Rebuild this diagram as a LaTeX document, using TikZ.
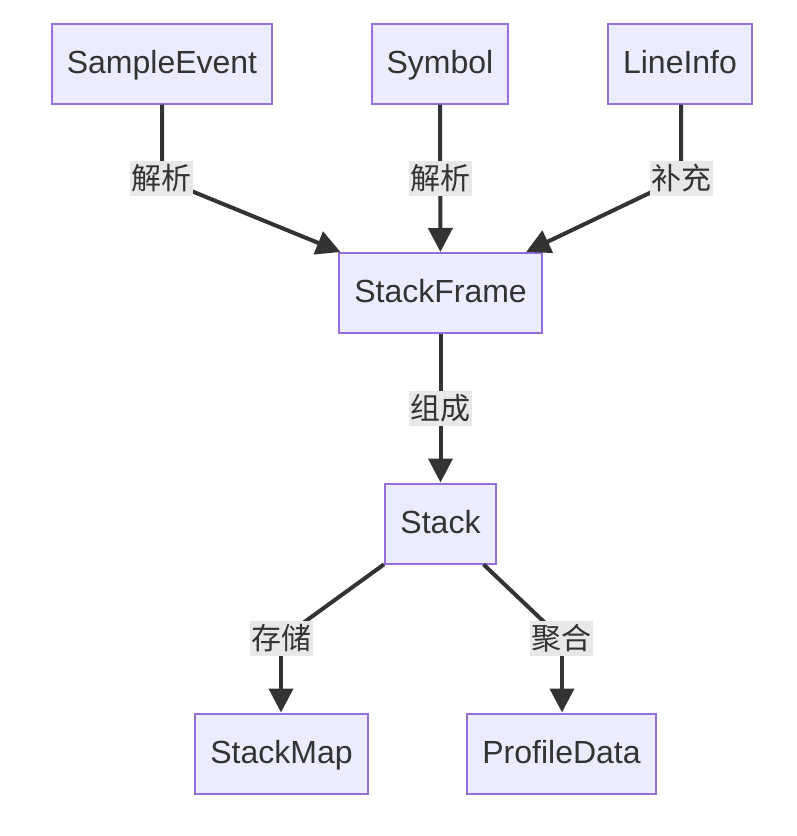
\documentclass[tikz,border=0pt]{standalone}
\usepackage{fontspec}
\setmainfont{Liberation Sans}
\newfontfamily\cjk{Noto Sans CJK SC}
\usetikzlibrary{arrows.meta}
\definecolor{boxfill}{HTML}{ECECFF}
\definecolor{boxline}{HTML}{9370DB}
\definecolor{edgecol}{HTML}{333333}
\definecolor{labbg}{HTML}{E8E8E8}
\definecolor{txt}{HTML}{333333}
\tikzset{
  box/.style={draw=boxline, fill=boxfill, line width=2pt, minimum height=80pt, inner sep=0pt, text height=23pt, text depth=4pt, text=txt, font=\fontsize{32}{38}\selectfont},
  lab/.style={fill=labbg, inner sep=0pt, minimum width=63pt, minimum height=35pt, text=txt, font=\cjk\fontsize{30}{36}\selectfont},
  edge/.style={draw=edgecol, line width=4pt},
  arr/.style={edge, -{Triangle[length=24pt,width=24pt]}}
}
\begin{document}
\begin{tikzpicture}[x=1pt,y=-1pt]
\useasboundingbox[fill=white] (0,0) rectangle (796,836);
% nodes
\node[box, minimum width=220pt] (se) at (162,63.5) {SampleEvent};
\node[box, minimum width=136pt] (sym) at (440,63.5) {Symbol};
\node[box, minimum width=144pt] (li) at (680,63.5) {LineInfo};
\node[box, minimum width=203pt] (sf) at (440.5,293) {StackFrame};
\node[box, minimum width=111pt] (st) at (440.5,523.5) {Stack};
\node[box, minimum width=173pt] (sm) at (281.5,753.5) {StackMap};
\node[box, minimum width=189pt] (pd) at (561.5,753.5) {ProfileData};
% bend points
\coordinate (c1) at (162,179);
\coordinate (c3) at (681,178);
\coordinate (c5) at (281,639);
\coordinate (c6) at (562,639);
% edges
\draw[arr] (se.south -| c1) -- (c1) -- (sf);
\draw[arr] (sym) -- (sf);
\draw[arr] (li.south -| c3) -- (c3) -- (sf);
\draw[arr] (sf) -- (st);
\draw[edge] (st) -- (c5);
\draw[arr] (c5) -- (sm.north -| c5);
\draw[edge] (st) -- (c6);
\draw[arr] (c6) -- (pd.north -| c6);
% labels
\node[lab] (l1) at (161.5,178.5) {解析};
\node[lab] (l2) at (440,178) {解析};
\node[lab] (l3) at (681,178) {补充};
\node[lab] (l4) at (440,408) {组成};
\node[lab] (l5) at (281,638) {存储};
\node[lab] (l6) at (561.5,638) {聚合};
\end{tikzpicture}
\end{document}
